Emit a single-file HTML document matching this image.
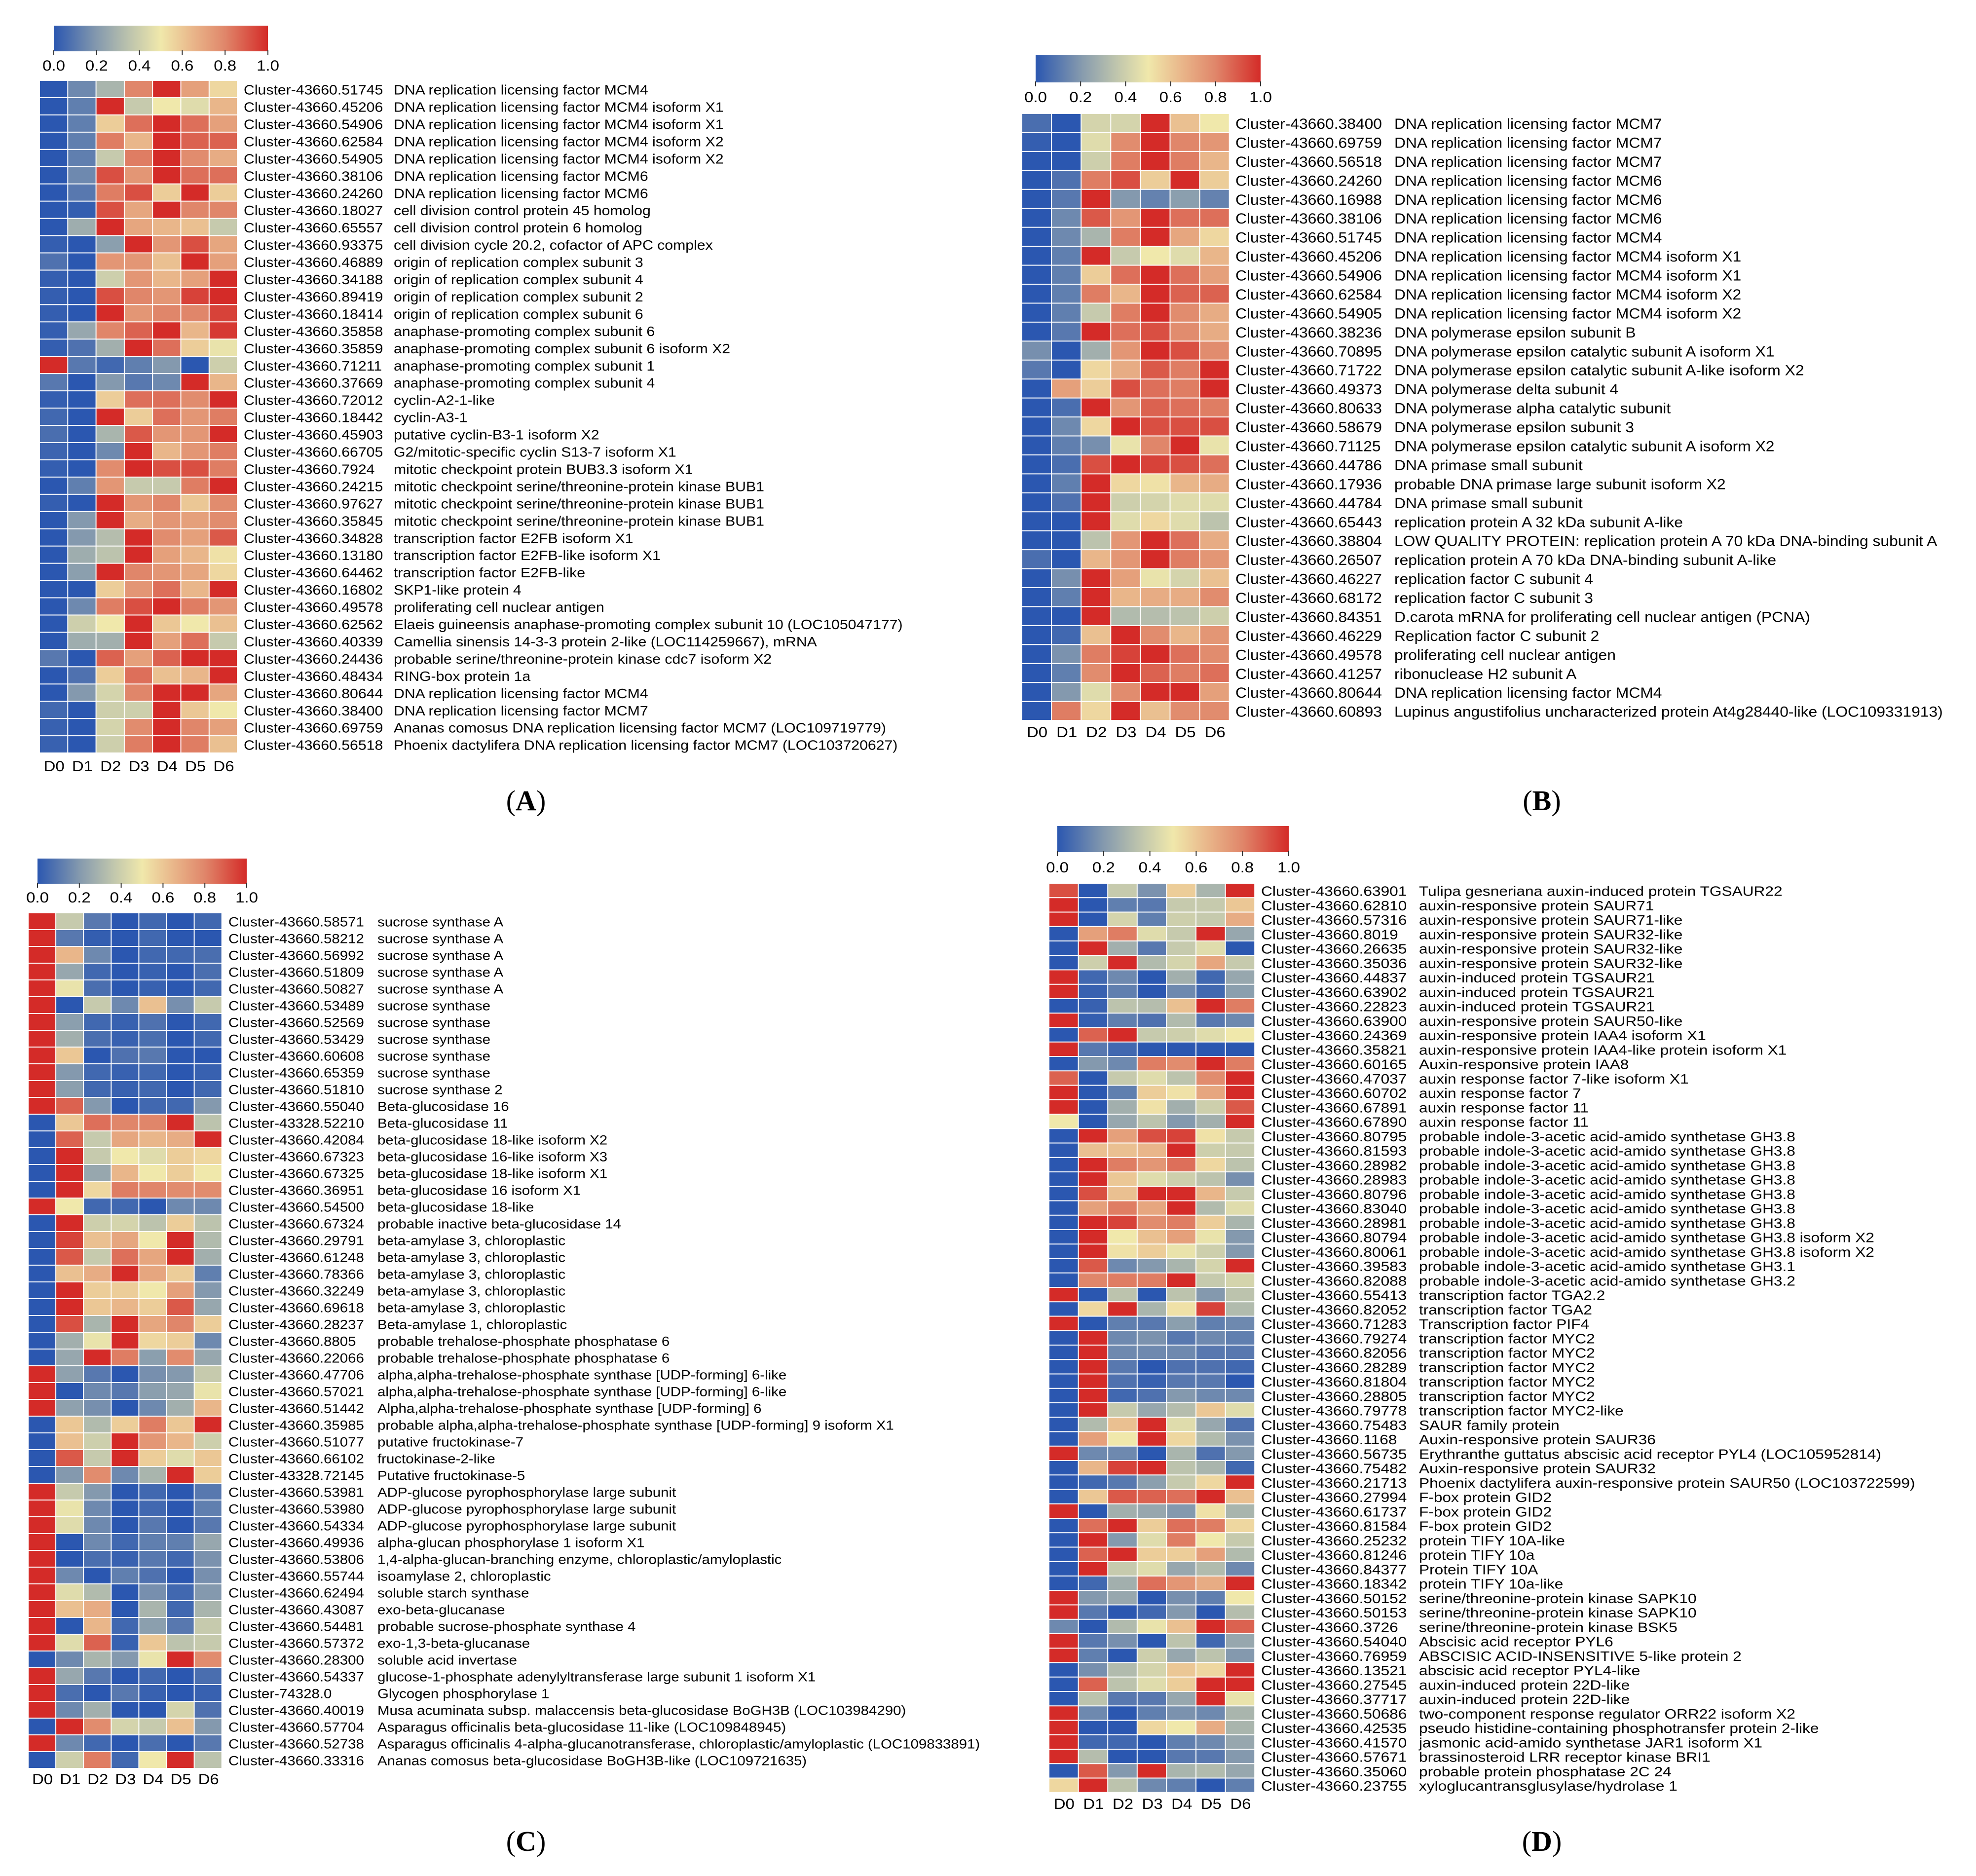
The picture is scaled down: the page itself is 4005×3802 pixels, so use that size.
<!DOCTYPE html>
<html>
<head>
<meta charset="utf-8">
<style>
html,body{margin:0;padding:0;background:#fff;}
svg{display:block;}
text{font-family:"Liberation Sans",Arial,sans-serif;fill:#000;}
</style>
</head>
<body>
<svg id="fig" xmlns="http://www.w3.org/2000/svg" width="4005" height="3802" viewBox="0 0 4005 3802">
<defs>
<linearGradient id="cmap" x1="0" y1="0" x2="1" y2="0">
<stop offset="0" stop-color="#2b57b0"/>
<stop offset="0.2" stop-color="#8499ae"/>
<stop offset="0.35" stop-color="#bcc3ad"/>
<stop offset="0.5" stop-color="#f0e8ab"/>
<stop offset="0.65" stop-color="#e9b68a"/>
<stop offset="0.8" stop-color="#e0866a"/>
<stop offset="1" stop-color="#d42b28"/>
</linearGradient>
</defs>
</svg>
<script>
const columns = ["D0","D1","D2","D3","D4","D5","D6"];
const colorbarTicks = ["0.0","0.2","0.4","0.6","0.8","1.0"];

const clustersA = ["Cluster-43660.51745","Cluster-43660.45206","Cluster-43660.54906","Cluster-43660.62584","Cluster-43660.54905","Cluster-43660.38106","Cluster-43660.24260","Cluster-43660.18027","Cluster-43660.65557","Cluster-43660.93375","Cluster-43660.46889","Cluster-43660.34188","Cluster-43660.89419","Cluster-43660.18414","Cluster-43660.35858","Cluster-43660.35859","Cluster-43660.71211","Cluster-43660.37669","Cluster-43660.72012","Cluster-43660.18442","Cluster-43660.45903","Cluster-43660.66705","Cluster-43660.7924","Cluster-43660.24215","Cluster-43660.97627","Cluster-43660.35845","Cluster-43660.34828","Cluster-43660.13180","Cluster-43660.64462","Cluster-43660.16802","Cluster-43660.49578","Cluster-43660.62562","Cluster-43660.40339","Cluster-43660.24436","Cluster-43660.48434","Cluster-43660.80644","Cluster-43660.38400","Cluster-43660.69759","Cluster-43660.56518"];
const descA = ["DNA replication licensing factor MCM4","DNA replication licensing factor MCM4 isoform X1","DNA replication licensing factor MCM4 isoform X1","DNA replication licensing factor MCM4 isoform X2","DNA replication licensing factor MCM4 isoform X2","DNA replication licensing factor MCM6","DNA replication licensing factor MCM6","cell division control protein 45 homolog","cell division control protein 6 homolog","cell division cycle 20.2, cofactor of APC complex","origin of replication complex subunit 3","origin of replication complex subunit 4","origin of replication complex subunit 2","origin of replication complex subunit 6","anaphase-promoting complex subunit 6","anaphase-promoting complex subunit 6 isoform X2","anaphase-promoting complex subunit 1","anaphase-promoting complex subunit 4","cyclin-A2-1-like","cyclin-A3-1","putative cyclin-B3-1 isoform X2","G2/mitotic-specific cyclin S13-7 isoform X1","mitotic checkpoint protein BUB3.3 isoform X1","mitotic checkpoint serine/threonine-protein kinase BUB1","mitotic checkpoint serine/threonine-protein kinase BUB1","mitotic checkpoint serine/threonine-protein kinase BUB1","transcription factor E2FB isoform X1","transcription factor E2FB-like isoform X1","transcription factor E2FB-like","SKP1-like protein 4","proliferating cell nuclear antigen","Elaeis guineensis anaphase-promoting complex subunit 10 (LOC105047177)","Camellia sinensis 14-3-3 protein 2-like (LOC114259667), mRNA","probable serine/threonine-protein kinase cdc7 isoform X2","RING-box protein 1a","DNA replication licensing factor MCM4","DNA replication licensing factor MCM7","Ananas comosus DNA replication licensing factor MCM7 (LOC109719779)","Phoenix dactylifera DNA replication licensing factor MCM7 (LOC103720627)"];
const valuesA = [
[0,.15,.3,.8,1,.72,.55],[0,.12,1,.38,.5,.45,.65],[0,.12,.58,.85,1,.85,.72],[0,.12,.82,.65,1,.88,.88],[0,.12,.38,.82,1,.78,.68],
[0,.15,.92,.75,1,.85,.85],[0,.1,.82,.92,.58,1,.58],[0,.02,.92,.7,1,.8,.8],[0,.27,1,.7,.65,.62,.38],[.02,0,.22,1,.75,.92,.7],
[.08,0,.75,.75,.62,1,.72],[.02,0,.4,.75,.65,.72,1],[.02,0,.92,.8,.75,.95,1],[.02,0,1,.75,.8,.8,.95],[.02,.25,.8,.88,1,.65,.97],
[.02,.08,.28,1,.85,.58,.48],[1,.1,.05,.12,.2,0,.4],[.1,0,.2,.1,.15,1,.65],[.02,0,.58,.85,.85,.78,1],[.05,0,1,.58,.85,.75,.82],
[.07,0,.3,.9,.75,.75,1],[.04,0,.15,1,.65,.75,.82],[.02,0,.78,1,.92,.92,.82],[0,.12,.75,.38,.38,.82,1],[.02,0,1,.75,.8,.6,.78],
[0,.2,1,.68,.75,.72,.78],[0,.2,.33,1,.78,.72,.9],[0,.27,.35,1,.72,.65,.52],[0,.22,1,.8,.75,.7,.55],[0,0,.58,.75,.85,.65,1],
[0,.15,.82,.92,1,.82,.75],[0,.4,.5,1,.6,.5,.62],[0,.27,.28,1,.72,.85,.38],[.1,0,.88,.72,.88,1,1],[0,.08,.58,.85,.62,.65,1],
[0,.2,.42,.8,1,1,.7],[.05,0,.4,.4,1,.6,.5],[.03,0,.42,.78,1,.8,.72],[.03,0,.4,.82,1,.82,.62]];

const clustersB = ["Cluster-43660.38400","Cluster-43660.69759","Cluster-43660.56518","Cluster-43660.24260","Cluster-43660.16988","Cluster-43660.38106","Cluster-43660.51745","Cluster-43660.45206","Cluster-43660.54906","Cluster-43660.62584","Cluster-43660.54905","Cluster-43660.38236","Cluster-43660.70895","Cluster-43660.71722","Cluster-43660.49373","Cluster-43660.80633","Cluster-43660.58679","Cluster-43660.71125","Cluster-43660.44786","Cluster-43660.17936","Cluster-43660.44784","Cluster-43660.65443","Cluster-43660.38804","Cluster-43660.26507","Cluster-43660.46227","Cluster-43660.68172","Cluster-43660.84351","Cluster-43660.46229","Cluster-43660.49578","Cluster-43660.41257","Cluster-43660.80644","Cluster-43660.60893"];
const descB = ["DNA replication licensing factor MCM7","DNA replication licensing factor MCM7","DNA replication licensing factor MCM7","DNA replication licensing factor MCM6","DNA replication licensing factor MCM6","DNA replication licensing factor MCM6","DNA replication licensing factor MCM4","DNA replication licensing factor MCM4 isoform X1","DNA replication licensing factor MCM4 isoform X1","DNA replication licensing factor MCM4 isoform X2","DNA replication licensing factor MCM4 isoform X2","DNA polymerase epsilon subunit B","DNA polymerase epsilon catalytic subunit A isoform X1","DNA polymerase epsilon catalytic subunit A-like isoform X2","DNA polymerase delta subunit 4","DNA polymerase alpha catalytic subunit","DNA polymerase epsilon subunit 3","DNA polymerase epsilon catalytic subunit A isoform X2","DNA primase small subunit","probable DNA primase large subunit isoform X2","DNA primase small subunit","replication protein A 32 kDa subunit A-like","LOW QUALITY PROTEIN: replication protein A 70 kDa DNA-binding subunit A","replication protein A 70 kDa DNA-binding subunit A-like","replication factor C subunit 4","replication factor C subunit 3","D.carota mRNA for proliferating cell nuclear antigen (PCNA)","Replication factor C subunit 2","proliferating cell nuclear antigen","ribonuclease H2 subunit A","DNA replication licensing factor MCM4","Lupinus angustifolius uncharacterized protein At4g28440-like (LOC109331913)"];
const valuesB = [
[.07,0,.42,.42,1,.62,.5],[.02,0,.45,.78,1,.8,.75],[0,0,.4,.82,1,.82,.65],[0,.08,.82,.92,.58,1,.58],[0,.1,1,.2,.13,.22,.13],
[0,.15,.9,.75,1,.85,.85],[0,.15,.3,.82,1,.7,.55],[0,.12,1,.38,.5,.45,.65],[0,.12,.58,.85,1,.85,.72],[0,.12,.82,.65,1,.88,.88],
[0,.12,.38,.82,1,.78,.68],[0,.1,1,.85,.92,.78,.68],[.17,0,.28,.75,1,.92,.78],[.1,0,.55,.68,.9,.82,1],[0,.72,.58,.92,.85,.82,1],
[0,.07,1,.75,.88,.85,.82],[0,.15,.55,1,.92,.92,.92],[0,.12,.17,.48,.8,1,.48],[0,.07,.92,1,.95,.92,.85],[0,.12,1,.55,.52,.65,.68],
[0,.08,1,.4,.42,.45,.45],[0,0,1,.45,.55,.45,.35],[0,0,.35,.75,1,.85,.68],[.07,0,.65,.75,1,.82,.75],[0,.17,1,.72,.48,.42,.62],
[0,.12,1,.65,.68,.68,.78],[0,0,1,.32,.33,.35,.4],[0,.05,.62,1,.78,.65,.75],[0,.18,.82,.95,1,.85,.78],[0,.12,.78,1,.88,.82,.85],
[0,.2,.45,.78,1,1,.72],[0,.82,.55,1,.62,.78,.78]];

const clustersC = ["Cluster-43660.58571","Cluster-43660.58212","Cluster-43660.56992","Cluster-43660.51809","Cluster-43660.50827","Cluster-43660.53489","Cluster-43660.52569","Cluster-43660.53429","Cluster-43660.60608","Cluster-43660.65359","Cluster-43660.51810","Cluster-43660.55040","Cluster-43328.52210","Cluster-43660.42084","Cluster-43660.67323","Cluster-43660.67325","Cluster-43660.36951","Cluster-43660.54500","Cluster-43660.67324","Cluster-43660.29791","Cluster-43660.61248","Cluster-43660.78366","Cluster-43660.32249","Cluster-43660.69618","Cluster-43660.28237","Cluster-43660.8805","Cluster-43660.22066","Cluster-43660.47706","Cluster-43660.57021","Cluster-43660.51442","Cluster-43660.35985","Cluster-43660.51077","Cluster-43660.66102","Cluster-43328.72145","Cluster-43660.53981","Cluster-43660.53980","Cluster-43660.54334","Cluster-43660.49936","Cluster-43660.53806","Cluster-43660.55744","Cluster-43660.62494","Cluster-43660.43087","Cluster-43660.54481","Cluster-43660.57372","Cluster-43660.28300","Cluster-43660.54337","Cluster-74328.0","Cluster-43660.40019","Cluster-43660.57704","Cluster-43660.52738","Cluster-43660.33316"];
const descC = ["sucrose synthase A","sucrose synthase A","sucrose synthase A","sucrose synthase A","sucrose synthase A","sucrose synthase","sucrose synthase","sucrose synthase","sucrose synthase","sucrose synthase","sucrose synthase 2","Beta-glucosidase 16","Beta-glucosidase 11","beta-glucosidase 18-like isoform X2","beta-glucosidase 16-like isoform X3","beta-glucosidase 18-like isoform X1","beta-glucosidase 16 isoform X1","beta-glucosidase 18-like","probable inactive beta-glucosidase 14","beta-amylase 3, chloroplastic","beta-amylase 3, chloroplastic","beta-amylase 3, chloroplastic","beta-amylase 3, chloroplastic","beta-amylase 3, chloroplastic","Beta-amylase 1, chloroplastic","probable trehalose-phosphate phosphatase 6","probable trehalose-phosphate phosphatase 6","alpha,alpha-trehalose-phosphate synthase [UDP-forming] 6-like","alpha,alpha-trehalose-phosphate synthase [UDP-forming] 6-like","Alpha,alpha-trehalose-phosphate synthase [UDP-forming] 6","probable alpha,alpha-trehalose-phosphate synthase [UDP-forming] 9 isoform X1","putative fructokinase-7","fructokinase-2-like","Putative fructokinase-5","ADP-glucose pyrophosphorylase large subunit","ADP-glucose pyrophosphorylase large subunit","ADP-glucose pyrophosphorylase large subunit","alpha-glucan phosphorylase 1 isoform X1","1,4-alpha-glucan-branching enzyme, chloroplastic/amyloplastic","isoamylase 2, chloroplastic","soluble starch synthase","exo-beta-glucanase","probable sucrose-phosphate synthase 4","exo-1,3-beta-glucanase","soluble acid invertase","glucose-1-phosphate adenylyltransferase large subunit 1 isoform X1","Glycogen phosphorylase 1","Musa acuminata subsp. malaccensis beta-glucosidase BoGH3B (LOC103984290)","Asparagus officinalis beta-glucosidase 11-like (LOC109848945)","Asparagus officinalis 4-alpha-glucanotransferase, chloroplastic/amyloplastic (LOC109833891)","Ananas comosus beta-glucosidase BoGH3B-like (LOC109721635)"];
const valuesC = [
[1,.38,.1,0,.05,0,.05],[1,.1,.02,0,.05,0,0],[1,.65,.15,0,.05,.05,.07],[1,.25,.05,0,.03,0,.07],[1,.48,.07,0,.03,0,.05],
[1,0,.38,.15,.62,.17,.38],[1,.22,.05,.03,.08,0,.05],[1,.28,.07,.03,.07,0,.05],[1,.6,0,.08,.1,0,0],[1,.2,.05,.03,.05,0,.03],
[1,.22,.05,.03,.05,0,.05],[1,.88,.2,0,.05,.05,.2],[0,.6,.85,.8,.8,1,.35],[0,.88,.38,.7,.65,.68,1],[0,1,.38,.5,.45,.58,.55],
[0,1,.25,.65,.5,.58,.5],[0,1,.55,.82,.8,.78,.78],[1,.5,.05,.05,0,.15,.15],[0,1,.4,.42,.35,.58,.35],[0,.95,.62,.7,.5,1,.32],
[0,.9,.38,.85,.7,1,.28],[0,.62,.68,1,.7,.58,.12],[0,1,.58,.58,.5,.72,.2],[0,1,.6,.65,.58,.9,.25],[0,.92,.3,1,.7,.8,.58],
[0,.28,.48,1,.55,.58,.15],[0,.25,1,.82,.22,.78,.25],[1,.23,.1,0,.17,.2,.38],[1,0,.15,.1,.22,.25,.48],[1,.23,.17,0,.15,.28,.65],
[0,.6,.32,.58,.82,.6,1],[0,.62,.4,1,.75,.65,.4],[0,.9,.38,1,.58,.45,.6],[0,.2,.78,.15,.3,1,.58],[1,.38,.2,0,.05,0,.1],
[1,.48,.15,0,.05,0,.12],[1,.45,.15,0,.1,0,.1],[1,0,.15,.05,.12,.12,.25],[1,0,.07,.03,.1,.05,.18],[1,.15,0,.12,.08,0,.17],
[1,.45,.32,0,.17,.05,.2],[1,.62,.68,0,.3,.05,.3],[1,0,.65,.05,.22,.1,.38],[1,.45,.88,.03,.6,.35,.38],[0,.15,.3,.2,.48,1,.78],
[1,.25,.1,0,.05,0,.07],[1,.07,0,.1,.03,0,.03],[1,.15,.28,0,0,.42,.08],[0,1,.78,.42,.38,.62,.2],[1,.15,.05,0,.07,0,.1],
[0,.4,.82,.05,.5,1,.35]];

const clustersD = ["Cluster-43660.63901","Cluster-43660.62810","Cluster-43660.57316","Cluster-43660.8019","Cluster-43660.26635","Cluster-43660.35036","Cluster-43660.44837","Cluster-43660.63902","Cluster-43660.22823","Cluster-43660.63900","Cluster-43660.24369","Cluster-43660.35821","Cluster-43660.60165","Cluster-43660.47037","Cluster-43660.60702","Cluster-43660.67891","Cluster-43660.67890","Cluster-43660.80795","Cluster-43660.81593","Cluster-43660.28982","Cluster-43660.28983","Cluster-43660.80796","Cluster-43660.83040","Cluster-43660.28981","Cluster-43660.80794","Cluster-43660.80061","Cluster-43660.39583","Cluster-43660.82088","Cluster-43660.55413","Cluster-43660.82052","Cluster-43660.71283","Cluster-43660.79274","Cluster-43660.82056","Cluster-43660.28289","Cluster-43660.81804","Cluster-43660.28805","Cluster-43660.79778","Cluster-43660.75483","Cluster-43660.1168","Cluster-43660.56735","Cluster-43660.75482","Cluster-43660.21713","Cluster-43660.27994","Cluster-43660.61737","Cluster-43660.81584","Cluster-43660.25232","Cluster-43660.81246","Cluster-43660.84377","Cluster-43660.18342","Cluster-43660.50152","Cluster-43660.50153","Cluster-43660.3726","Cluster-43660.54040","Cluster-43660.76959","Cluster-43660.13521","Cluster-43660.27545","Cluster-43660.37717","Cluster-43660.50686","Cluster-43660.42535","Cluster-43660.41570","Cluster-43660.57671","Cluster-43660.35060","Cluster-43660.23755"];
const descD = ["Tulipa gesneriana auxin-induced protein TGSAUR22","auxin-responsive protein SAUR71","auxin-responsive protein SAUR71-like","auxin-responsive protein SAUR32-like","auxin-responsive protein SAUR32-like","auxin-responsive protein SAUR32-like","auxin-induced protein TGSAUR21","auxin-induced protein TGSAUR21","auxin-induced protein TGSAUR21","auxin-responsive protein SAUR50-like","auxin-responsive protein IAA4 isoform X1","auxin-responsive protein IAA4-like protein isoform X1","Auxin-responsive protein IAA8","auxin response factor 7-like isoform X1","auxin response factor 7","auxin response factor 11","auxin response factor 11","probable indole-3-acetic acid-amido synthetase GH3.8","probable indole-3-acetic acid-amido synthetase GH3.8","probable indole-3-acetic acid-amido synthetase GH3.8","probable indole-3-acetic acid-amido synthetase GH3.8","probable indole-3-acetic acid-amido synthetase GH3.8","probable indole-3-acetic acid-amido synthetase GH3.8","probable indole-3-acetic acid-amido synthetase GH3.8","probable indole-3-acetic acid-amido synthetase GH3.8 isoform X2","probable indole-3-acetic acid-amido synthetase GH3.8 isoform X2","probable indole-3-acetic acid-amido synthetase GH3.1","probable indole-3-acetic acid-amido synthetase GH3.2","transcription factor TGA2.2","transcription factor TGA2","Transcription factor PIF4","transcription factor MYC2","transcription factor MYC2","transcription factor MYC2","transcription factor MYC2","transcription factor MYC2","transcription factor MYC2-like","SAUR family protein","Auxin-responsive protein SAUR36","Erythranthe guttatus abscisic acid receptor PYL4 (LOC105952814)","Auxin-responsive protein SAUR32","Phoenix dactylifera auxin-responsive protein SAUR50 (LOC103722599)","F-box protein GID2","F-box protein GID2","F-box protein GID2","protein TIFY 10A-like","protein TIFY 10a","Protein TIFY 10A","protein TIFY 10a-like","serine/threonine-protein kinase SAPK10","serine/threonine-protein kinase SAPK10","serine/threonine-protein kinase BSK5","Abscisic acid receptor PYL6","ABSCISIC ACID-INSENSITIVE 5-like protein 2","abscisic acid receptor PYL4-like","auxin-induced protein 22D-like","auxin-induced protein 22D-like","two-component response regulator ORR22 isoform X2","pseudo histidine-containing phosphotransfer protein 2-like","jasmonic acid-amido synthetase JAR1 isoform X1","brassinosteroid LRR receptor kinase BRI1","probable protein phosphatase 2C 24","xyloglucantransglusylase/hydrolase 1"];
const valuesD = [
[.92,0,.38,.18,.58,.3,1],[1,0,.12,.1,.38,.38,.6],[1,0,.42,.12,.4,.38,.68],[0,.72,.82,.45,.38,1,.25],[0,1,.28,.1,.38,.45,0],
[0,.4,1,.32,.42,.7,.38],[1,.05,.15,0,.28,.05,.25],[1,.03,.12,0,.15,.05,.22],[0,.03,.35,.33,.62,1,.82],[1,.02,.12,.08,.32,.1,.15],
[0,.88,1,.38,.4,.45,.5],[1,.1,.05,0,0,0,0],[0,.2,.15,.82,.78,1,.82],[.88,0,.38,.45,.35,.78,1],[1,0,.12,.58,.52,.7,1],
[1,0,.28,.52,.28,.4,.9],[.5,0,.25,.35,.2,.28,1],[0,1,.72,.92,.95,.52,.38],[0,.62,.62,.65,1,.4,.38],[0,1,.82,.75,.85,.55,.35],
[0,1,.6,.45,.4,.35,.17],[0,.92,.62,1,1,.65,.38],[0,.72,.82,.7,1,.32,.45],[0,1,.95,.78,.82,.58,.3],[0,1,.5,.62,.72,.48,.2],
[0,1,.52,.58,.48,.4,.2],[0,.9,.15,.2,.3,.42,1],[0,.8,.82,.82,1,.38,.42],[1,0,.35,0,.35,.2,.35],[0,.55,1,.3,.52,.95,.32],
[1,0,.12,.1,.22,.12,.15],[0,1,.15,.18,.1,.15,.12],[0,1,.15,.15,.15,.1,.1],[0,1,.1,0,.08,.08,.05],[0,1,.08,.03,.1,.1,0],
[0,1,.05,.08,.2,.15,.15],[0,1,.38,.25,.33,.6,.45],[0,.32,.62,1,.45,.25,.08],[0,.72,.5,1,.55,.32,.18],[1,.15,.15,0,.3,.08,.2],
[0,.65,.95,1,.35,.3,.05],[0,.05,.1,.22,.38,.55,1],[0,.6,.9,.88,.85,1,.62],[1,0,.28,.25,.2,.52,.3],[0,.85,1,.58,.85,.82,.55],
[0,1,.2,.45,.82,.5,.38],[0,.88,1,.58,.58,.72,.32],[0,1,.38,.45,.25,.32,.15],[0,.05,.28,.85,.75,.68,1],[1,.2,.25,0,.17,.12,.5],
[1,.1,0,.05,.2,0,.33],[.15,0,.32,.48,.62,1,.88],[1,.1,.17,0,.35,.05,.25],[1,.12,0,.4,.25,.35,.2],[0,.17,.32,.42,.6,.55,1],
[0,.88,.35,.45,.58,1,1],[0,.35,.1,.1,.25,1,.48],[1,.15,0,.12,.18,.15,.3],[1,0,0,.55,.5,.68,.3],[1,.05,.05,0,.12,.15,.25],
[1,.33,0,0,.1,.1,.2],[0,.9,.2,1,.3,.32,.25],[.55,1,.35,.15,.12,0,.12]];

const NS = "http://www.w3.org/2000/svg";
const svg = document.getElementById('fig');
const stops = [[0,[43,87,176]],[0.2,[132,153,174]],[0.35,[188,195,173]],[0.5,[240,232,171]],[0.65,[233,182,138]],[0.8,[224,134,106]],[1,[212,43,40]]];
function colorOf(v){
  v = Math.max(0, Math.min(1, v));
  for (let i = 1; i < stops.length; i++) {
    if (v <= stops[i][0]) {
      const a = stops[i-1], b = stops[i];
      const t = (v - a[0]) / (b[0] - a[0]);
      const c = a[1].map((x, k) => Math.round(x + (b[1][k] - x) * t));
      return 'rgb(' + c.join(',') + ')';
    }
  }
  return 'rgb(212,43,40)';
}
function mk(tag, parent){ const e = document.createElementNS(NS, tag); parent.appendChild(e); return e; }

function drawPanel(P, clusters, descs, values){
  const g = mk('g', svg);
  
  
  const cb = mk('rect', g);
  cb.setAttribute('x', P.cbx0); cb.setAttribute('y', P.cby0);
  cb.setAttribute('width', P.cbx1 - P.cbx0); cb.setAttribute('height', P.cby1 - P.cby0);
  cb.setAttribute('fill', 'url(#cmap)');
  
  
  colorbarTicks.forEach((lab, i) => {
    const v = parseFloat(lab);
    const x = P.cbx0 + v * (P.cbx1 - P.cbx0);
    const tk = mk('line', g);
    tk.setAttribute('x1', x); tk.setAttribute('x2', x);
    tk.setAttribute('y1', P.cby1 - 2); tk.setAttribute('y2', P.cby1 + 8);
    tk.setAttribute('stroke', '#333'); tk.setAttribute('stroke-width', 2);
    
    
    const t = mk('text', g);
    t.setAttribute('transform', 'translate(' + x + ',' + P.cbLab + ') scale(1.1,1)');
    t.setAttribute('text-anchor', 'middle'); t.setAttribute('font-size', 30);
    t.textContent = lab;
    
    
  });
  values.forEach((row, r) => {
    row.forEach((v, c) => {
      const rc = mk('rect', g);
      rc.setAttribute('x', P.hx + c * P.cw);
      rc.setAttribute('y', P.hy + r * P.rh);
      rc.setAttribute('width', P.cw - 2);
      rc.setAttribute('height', P.rh - 2);
      rc.setAttribute('fill', colorOf(v));
      
      
    });
    const yb = P.hy + r * P.rh + P.rh / 2 + 0.36 * P.fs;
    const t1 = mk('text', g);
    t1.setAttribute('transform', 'translate(' + P.lx + ',' + yb + ') scale(' + P.sx + ',1)');
    t1.setAttribute('font-size', P.fs);
    t1.textContent = clusters[r];
    
    
    const t2 = mk('text', g);
    t2.setAttribute('transform', 'translate(' + P.dx + ',' + yb + ') scale(' + P.sx + ',1)');
    t2.setAttribute('font-size', P.fs);
    t2.textContent = descs[r];
    
    
  });
  columns.forEach((lab, c) => {
    const t = mk('text', g);
    t.setAttribute('transform', 'translate(' + (P.hx + c * P.cw + P.cw / 2) + ',' + P.colLab + ') scale(1.1,1)');
    t.setAttribute('text-anchor', 'middle'); t.setAttribute('font-size', 30);
    t.textContent = lab;
    
    
  });
  const pl = mk('text', g);
  pl.setAttribute('x', P.px); pl.setAttribute('y', P.py);
  pl.setAttribute('text-anchor', 'middle');
  pl.setAttribute('font-size', 58);
  pl.setAttribute('style', 'font-family:"Liberation Serif",serif');
  pl.innerHTML = '(<tspan font-weight="bold">' + P.id + '</tspan>)';
  
  
}

drawPanel({id:'A',hx:81,hy:164,cw:57.3,rh:34.95,lx:494,dx:798,fs:28,sx:1.08,cbx0:109,cbx1:543,cby0:52,cby1:104,cbLab:143,colLab:1563,px:1066,py:1642}, clustersA, descA, valuesA);
drawPanel({id:'B',hx:2072,hy:231,cw:60.1,rh:38.44,lx:2504,dx:2826,fs:30,sx:1.06,cbx0:2099,cbx1:2555,cby0:111,cby1:167,cbLab:207,colLab:1494,px:3125,py:1642}, clustersB, descB, valuesB);
drawPanel({id:'C',hx:58,hy:1851,cw:56.1,rh:34.0,lx:463,dx:765,fs:27,sx:1.09,cbx0:76,cbx1:500,cby0:1740,cby1:1791,cbLab:1829,colLab:3616,px:1066,py:3751}, clustersC, descC, valuesC);
drawPanel({id:'D',hx:2127,hy:1791,cw:59.6,rh:29.25,lx:2556,dx:2876,fs:28,sx:1.13,cbx0:2143,cbx1:2612,cby0:1674,cby1:1727,cbLab:1768,colLab:3666,px:3125,py:3751}, clustersD, descD, valuesD);
</script>
</body>
</html>
